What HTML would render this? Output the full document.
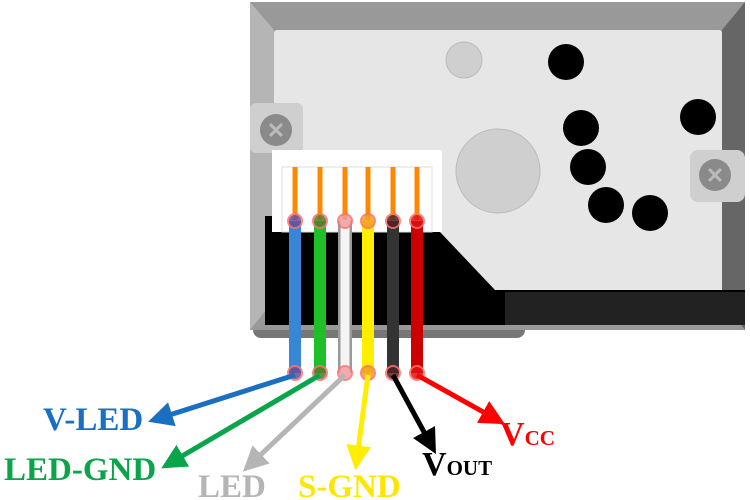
<!DOCTYPE html>
<html><head><meta charset="utf-8"><style>
html,body{margin:0;padding:0;background:#fff;width:750px;height:500px;overflow:hidden}
text{font-family:"Liberation Serif",serif;font-weight:bold}
</style></head><body>
<svg width="750" height="500" viewBox="0 0 750 500">
<defs>
<marker id="ah" viewBox="0 0 10 10" refX="5" refY="5" markerWidth="5" markerHeight="5" orient="auto-start-reverse" markerUnits="strokeWidth">
<path d="M0,0 L10,5 L0,10 z" fill="context-stroke"/></marker>
</defs>
<g>
<rect x="253" y="300" width="272" height="38" rx="8" fill="#777"/>
<polygon points="250,2 745,2 745,330 250,330" fill="#999"/>
<polygon points="722,30 745,2 745,330 722,300" fill="#666"/>
<polygon points="250,2 274,30 274,300 250,330" fill="#b5b5b5"/>
<rect x="274" y="30" width="448" height="262" rx="3" fill="#e6e6e6"/>
<polygon points="265,216 272,216 272,232 440,232 495,290 745,290 745,325 265,325" fill="#000"/>
<polygon points="505,292 745,292 745,325 505,325" fill="#222"/>
<rect x="250" y="103" width="53" height="50" rx="6" fill="#cfcfcf"/>
<circle cx="276" cy="130" r="16" fill="#8a8a8a"/><text x="276" y="138" font-size="22" text-anchor="middle" fill="#bbb">✕</text>
<rect x="690" y="150" width="55" height="52" rx="8" fill="#cfcfcf"/>
<circle cx="715" cy="175" r="16" fill="#8a8a8a"/><text x="715" y="183" font-size="22" text-anchor="middle" fill="#bbb">✕</text>
<circle cx="464" cy="60" r="18" fill="#cfcfcf" stroke="#bbb"/>
<circle cx="498" cy="171" r="42" fill="#cfcfcf" stroke="#bbb"/>
<circle cx="566" cy="62" r="18" fill="#000"/>
<circle cx="581" cy="128" r="18" fill="#000"/>
<circle cx="588" cy="167" r="18" fill="#000"/>
<circle cx="606" cy="205" r="18" fill="#000"/>
<circle cx="650" cy="213" r="18" fill="#000"/>
<circle cx="698" cy="117" r="18" fill="#000"/>
</g>
<g>
<rect x="272" y="150" width="170" height="82" fill="#fff"/>
<rect x="282" y="167" width="150" height="65" fill="none" stroke="#ddd"/>
</g>
<g id="wires"></g>
<g>
<text x="43" y="430" font-size="33" fill="#1a6fc0">V-LED</text>
<text x="4" y="480" font-size="33" fill="#0aa54a">LED-GND</text>
<text x="198" y="497" font-size="33" fill="#b5b5b5">LED</text>
<text x="298" y="497" font-size="33" fill="#ffe600">S-GND</text>
<text x="422" y="475" font-size="34" fill="#000">V<tspan font-size="21">OUT</tspan></text>
<text x="500" y="445" font-size="34" fill="#f00">V<tspan font-size="21">CC</tspan></text>
</g>
</svg>
<script>
const pinNames=['v-led','led-gnd','led','s-gnd','vout','vcc'];
const pinX=[295,320,345,368,393,417];
const wireColors=['#3a86d6','#1fbf2a','#f4f4f4','#ffee00','#333','#cc0000'];
const dotColors=['#6a4f9a','#5a7a2a','#f0a0a0','#f0a020','#552222','#dd1111'];
const arrowColors=['#1a6fc0','#0aa54a','#b5b5b5','#ffee00','#000','#ff0000'];
const arrowEnd=[[160,418],[172,462],[252,463],[357,458],[430,443],[494,418]];
const NS='http://www.w3.org/2000/svg';
const g=document.getElementById('wires');
function mk(t,a){const e=document.createElementNS(NS,t);for(const k in a)e.setAttribute(k,a[k]);g.appendChild(e);return e;}
pinX.forEach((x,i)=>{
 const p=mk('line',{x1:x,y1:167,x2:x,y2:220,stroke:'#ff8800','stroke-width':5});
 
 
 if(i===2){const o=mk('rect',{x:x-7,y:221,width:14,height:152,fill:'#999'});
  
  }
 const w=mk('line',{x1:x,y1:221,x2:x,y2:373,stroke:wireColors[i],'stroke-width':i===2?9:12});
 
 
 [221,373].forEach(y=>{const c=mk('circle',{cx:x,cy:y,r:7,fill:dotColors[i],stroke:'#ff7070','stroke-width':2,opacity:0.85});
  
  });
 const a=mk('line',{x1:x,y1:375,x2:arrowEnd[i][0],y2:arrowEnd[i][1],stroke:arrowColors[i],'stroke-width':5,'marker-end':'url(#ah)'});
 
 
});
</script>
</body></html>
